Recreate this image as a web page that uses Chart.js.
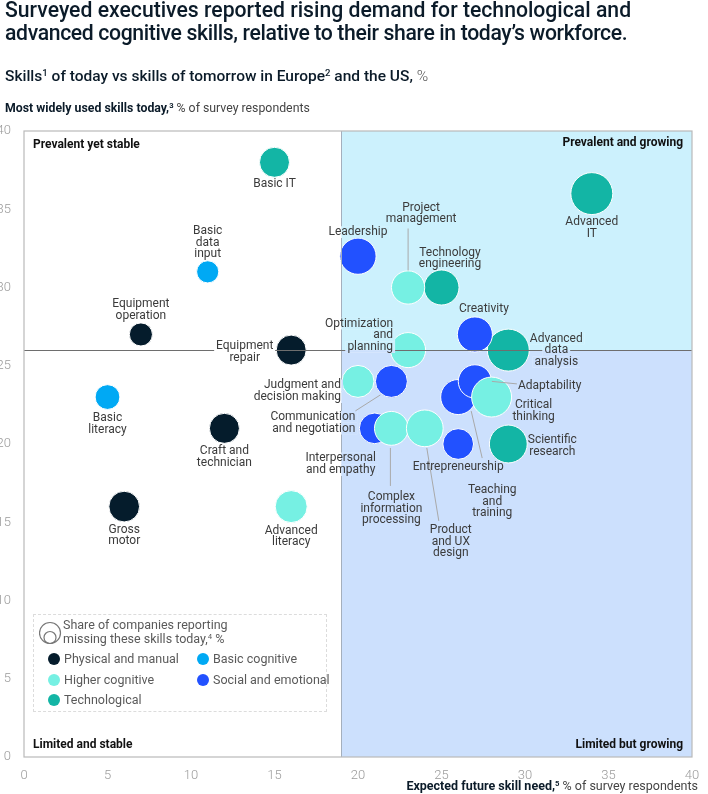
<!DOCTYPE html>
<html><head><meta charset="utf-8">
<script src="https://cdn.jsdelivr.net/npm/chart.js@4.4.1/dist/chart.umd.min.js"></script>
<style>
html,body{margin:0;padding:0;background:#fff;}
body{width:708px;height:794px;position:relative;overflow:hidden;font-family:Roboto,"Liberation Sans",sans-serif;color:#051c2c}
#c{position:absolute;left:0;top:0}
.t{position:absolute;white-space:nowrap}
#title{left:5px;top:-1px;font-size:21.2px;font-weight:500;line-height:22.5px;color:#0b1b29}
#title .l2{letter-spacing:-0.36px}
#sub{left:5px;top:67px;font-size:15.5px;font-weight:500;color:#0b1b29}
#sub .n{font-weight:300;color:#555}
#ytitle{left:5px;top:101px;font-size:12.3px;color:#0b1b29}
#xtitle{right:10px;top:778px;font-size:12.5px;color:#0b1b29}
.b{font-weight:700}
.n2{color:#444}
sup{font-size:0.62em;vertical-align:0.5em;line-height:0}
#lg{position:absolute;left:33px;top:614px;width:294px;height:98px;border:1px dashed #dcdcdc;box-sizing:border-box;font-size:12.5px;color:#5a5a5a}
#lg .i{position:absolute;white-space:nowrap;line-height:14px}
#lg .d{position:absolute;width:12px;height:12px;border-radius:50%}
</style></head>
<body>
<canvas id="c" width="708" height="794"></canvas>
<div class="t" id="title">Surveyed executives reported rising demand for technological and<br><span class="l2">advanced cognitive skills, relative to their share in today’s workforce.</span></div>
<div class="t" id="sub">Skills<sup>1</sup> of today vs skills of tomorrow in Europe<sup>2</sup> and the US, <span class="n">%</span></div>
<div class="t" id="ytitle"><span class="b">Most widely used skills today,<sup>3</sup></span> <span class="n2">% of survey respondents</span></div>
<div class="t" id="xtitle"><span class="b">Expected future skill need,<sup>5</sup></span> <span class="n2">% of survey respondents</span></div>
<div id="lg">
  <svg style="position:absolute;left:5px;top:6px" width="26" height="26"><circle cx="11" cy="12" r="10.5" fill="none" stroke="#777" stroke-width="1.2"/><circle cx="11" cy="16.5" r="6" fill="none" stroke="#777" stroke-width="1.2"/></svg>
  <div class="i" style="left:29px;top:3px">Share of companies reporting<br>missing these skills today,<sup>4</sup> %</div>
  <div class="d" style="left:14px;top:38px;background:#051c2c"></div><div class="i" style="left:30px;top:37px">Physical and manual</div>
  <div class="d" style="left:163px;top:38px;background:#00a9f4"></div><div class="i" style="left:179px;top:37px">Basic cognitive</div>
  <div class="d" style="left:14px;top:59px;background:#76f0e3"></div><div class="i" style="left:30px;top:58px">Higher cognitive</div>
  <div class="d" style="left:163px;top:59px;background:#2251ff"></div><div class="i" style="left:179px;top:58px">Social and emotional</div>
  <div class="d" style="left:14px;top:79px;background:#13b5a5"></div><div class="i" style="left:30px;top:78px">Technological</div>
</div>
<script>
// ---------- data ----------
const categories = ['Physical and manual','Basic cognitive','Higher cognitive','Social and emotional','Technological'];
const skillNames = [
  'Equipment operation','Equipment repair','Craft and technician','Gross motor',
  'Basic data input','Basic literacy',
  'Advanced literacy','Project management','Optimization and planning','Judgment and decision making','Complex information processing','Product and UX design','Critical thinking',
  'Leadership','Creativity','Communication and negotiation','Interpersonal and empathy','Entrepreneurship','Teaching and training','Adaptability',
  'Basic IT','Advanced IT','Technology engineering','Advanced data analysis','Scientific research'
];
const skillCategory = [0,0,0,0, 1,1, 2,2,2,2,2,2,2, 3,3,3,3,3,3,3, 4,4,4,4,4];
const futureNeed   = [7,16,12,6, 11,5, 16,23,23,20,22,24,28, 20,27,22,21,26,26,27, 15,34,25,29,29];
const usedToday    = [27,26,21,16, 31,23, 16,30,26,24,21,21,23, 32,27,24,21,20,23,24, 38,36,30,26,20];
const missingShare = [13,22,22,23, 12,15, 25,27,30,25,28,33,39, 32,30,25,23,23,30,27, 22,43,30,43,35];
const xRange = [0,40], yRange = [0,40], tickStep = 5;
const splitX = 19, splitY = 26;

// ---------- styles / layout ----------
const catColors = ['#051c2c','#00a9f4','#76f0e3','#2251ff','#13b5a5'];
const sizeScale = 3.2;
const qTop = '#ccf1fd', qBottom = '#cce0fd';
const labelLayout = {
 'Basic IT': {t:['Basic IT'], dx:0, dy:22, a:'center'},
 'Advanced IT': {t:['Advanced','IT'], dx:0, dy:28.5, a:'center'},
 'Basic data input': {t:['Basic','data','input'], dx:0, dy:-41, a:'center'},
 'Equipment operation': {t:['Equipment','operation'], dx:0, dy:-30, a:'center'},
 'Equipment repair': {t:['Equipment','repair'], dx:-46.5, dy:-4, a:'center', bg:1},
 'Leadership': {t:['Leadership'], dx:0, dy:-24, a:'center', bg:1},
 'Project management': {t:['Project','management'], dx:13, dy:-80, a:'center', lead:[0,-59,0,-17]},
 'Technology engineering': {t:['Technology','engineering'], dx:8.5, dy:-35, a:'center'},
 'Creativity': {t:['Creativity'], dx:9, dy:-25, a:'center'},
 'Optimization and planning': {t:['Optimization','and','planning'], dx:-15, dy:-26.5, a:'right', bg:1},
 'Advanced data analysis': {t:['Advanced','data','analysis'], dx:48, dy:-11.5, a:'center', bg:1},
 'Judgment and decision making': {t:['Judgment and','decision making'], dx:-17, dy:4, a:'right', bg:1},
 'Communication and negotiation': {t:['Communication','and negotiation'], dx:-36, dy:35.5, a:'right', bg:1, lead:[-36,29.5,-11,13.5]},
 'Interpersonal and empathy': {t:['Interpersonal','and empathy'], dx:-34, dy:30, a:'center', bg:1},
 'Complex information processing': {t:['Complex','information','processing'], dx:0, dy:68.5, a:'center', lead:[-1,19.6,-1,57.6]},
 'Product and UX design': {t:['Product','and UX','design'], dx:26, dy:101.6, a:'center', lead:[2,19.6,14,92.6]},
 'Entrepreneurship': {t:['Entrepreneurship'], dx:0, dy:23, a:'center'},
 'Teaching and training': {t:['Teaching','and','training'], dx:34, dy:93, a:'center', lead:[13,14,24,61]},
 'Adaptability': {t:['Adaptability'], dx:43, dy:5, a:'left', lead:[17,0,42,2.5]},
 'Critical thinking': {t:['Critical','thinking'], dx:42, dy:8, a:'center'},
 'Scientific research': {t:['Scientific','research'], dx:44, dy:-4, a:'center'},
 'Basic literacy': {t:['Basic','literacy'], dx:0, dy:21, a:'center'},
 'Craft and technician': {t:['Craft and','technician'], dx:0, dy:23, a:'center'},
 'Gross motor': {t:['Gross','motor'], dx:0, dy:23, a:'center'},
 'Advanced literacy': {t:['Advanced','literacy'], dx:0, dy:24, a:'center'}
};

const datasets = categories.map((cat, ci) => ({
  label: cat,
  data: skillNames.map((n, i) => ({x: futureNeed[i], y: usedToday[i], r: Math.sqrt(missingShare[i]) * sizeScale, name: n, c: skillCategory[i]}))
                  .filter(p => p.c === ci),
  backgroundColor: catColors[ci],
  borderColor: '#ffffff',
  borderWidth: 1,
  hoverBorderWidth: 1
}));

function fillQuadrants(ctx, ca, xs, ys) {
  const sx = xs.getPixelForValue(splitX), sy = ys.getPixelForValue(splitY);
  ctx.fillStyle = qTop; ctx.fillRect(sx, ca.top, ca.right - sx, sy - ca.top);
  ctx.fillStyle = qBottom; ctx.fillRect(sx, sy, ca.right - sx, ca.bottom - sy);
}

const deco = {
  id: 'deco',
  beforeDatasetsDraw(chart) {
    const {ctx, chartArea: ca, scales: {x: xs, y: ys}} = chart;
    ctx.save(); fillQuadrants(ctx, ca, xs, ys); ctx.restore();
  },
  afterDatasetsDraw(chart) {
    const {ctx, chartArea: ca, scales: {x: xs, y: ys}} = chart;
    const sx = xs.getPixelForValue(splitX), sy = ys.getPixelForValue(splitY);
    ctx.save();
    ctx.lineWidth = 1;
    ctx.strokeStyle = '#a4afbd';
    ctx.beginPath(); ctx.moveTo(Math.round(sx) + 0.5, ca.top); ctx.lineTo(Math.round(sx) + 0.5, ca.bottom); ctx.stroke();
    ctx.strokeStyle = '#6e6e6e';
    ctx.beginPath(); ctx.moveTo(ca.left, Math.round(sy) + 0.5); ctx.lineTo(ca.right, Math.round(sy) + 0.5); ctx.stroke();
    ctx.strokeStyle = '#b9b9b9'; ctx.lineWidth = 1.2;
    ctx.strokeRect(ca.left, ca.top, ca.right - ca.left, ca.bottom - ca.top);
    ctx.fillStyle = '#111'; ctx.font = 'bold 12px Roboto, "Liberation Sans", sans-serif'; ctx.textBaseline = 'middle';
    ctx.textAlign = 'left';
    ctx.fillText('Prevalent yet stable', ca.left + 9, ca.top + 14);
    ctx.fillText('Limited and stable', ca.left + 9, ca.bottom - 12);
    ctx.textAlign = 'right';
    ctx.fillText('Prevalent and growing', ca.right - 9, ca.top + 12);
    ctx.fillText('Limited but growing', ca.right - 9, ca.bottom - 12);
    const lh = 11.7;
    ctx.font = '12px Roboto, "Liberation Sans", sans-serif';
    chart.data.datasets.forEach((ds, di) => {
      const meta = chart.getDatasetMeta(di);
      ds.data.forEach((p, k) => {
        const L = labelLayout[p.name]; if (!L) return;
        const el = meta.data[k];
        const cx = el.x, cy = el.y;
        const ax = cx + L.dx, ay = cy + L.dy;
        if (L.bg) {
          L.t.forEach((line, li) => {
            const w = ctx.measureText(line).width;
            let x0 = L.a === 'center' ? ax - w / 2 : (L.a === 'right' ? ax - w : ax);
            const y0 = ay + li * lh - lh / 2;
            ctx.save();
            ctx.beginPath(); ctx.rect(x0 - 2, y0, w + 4, lh); ctx.clip();
            ctx.fillStyle = '#fff'; ctx.fillRect(x0 - 2, y0, w + 4, lh);
            fillQuadrants(ctx, ca, xs, ys);
            ctx.restore();
          });
        }
        if (L.lead) {
          ctx.strokeStyle = '#a9a9a9'; ctx.lineWidth = 1;
          ctx.beginPath(); ctx.moveTo(cx + L.lead[0], cy + L.lead[1]); ctx.lineTo(cx + L.lead[2], cy + L.lead[3]); ctx.stroke();
        }
        ctx.fillStyle = '#3b3b3b'; ctx.textAlign = L.a; ctx.textBaseline = 'middle';
        L.t.forEach((line, li) => ctx.fillText(line, ax, ay + li * lh));
      });
    });
    ctx.restore();
  }
};

new Chart(document.getElementById('c'), {
  type: 'bubble',
  data: {datasets},
  options: {
    responsive: false,
    animation: false,
    layout: {autoPadding: false, padding: {top: 131, right: 16, left: 0, bottom: 0}},
    plugins: {legend: {display: false}, tooltip: {enabled: false}},
    scales: {
      x: {
        type: 'linear', min: xRange[0], max: xRange[1],
        ticks: {stepSize: tickStep, color: '#9b9b9b', font: {size: 13, family: 'Roboto', weight: 300}, padding: 3, maxRotation: 0},
        grid: {display: false}, border: {display: false},
        afterFit(s) { s.height = 37; s.paddingLeft = 0; s.paddingRight = 0; }
      },
      y: {
        type: 'linear', min: yRange[0], max: yRange[1],
        ticks: {stepSize: tickStep, color: '#9b9b9b', font: {size: 13, family: 'Roboto', weight: 300}, padding: 5},
        grid: {display: false}, border: {display: false},
        afterFit(s) { s.width = 24; s.paddingTop = 0; s.paddingBottom = 0; }
      }
    }
  },
  plugins: [deco]
});
</script>
</body></html>
